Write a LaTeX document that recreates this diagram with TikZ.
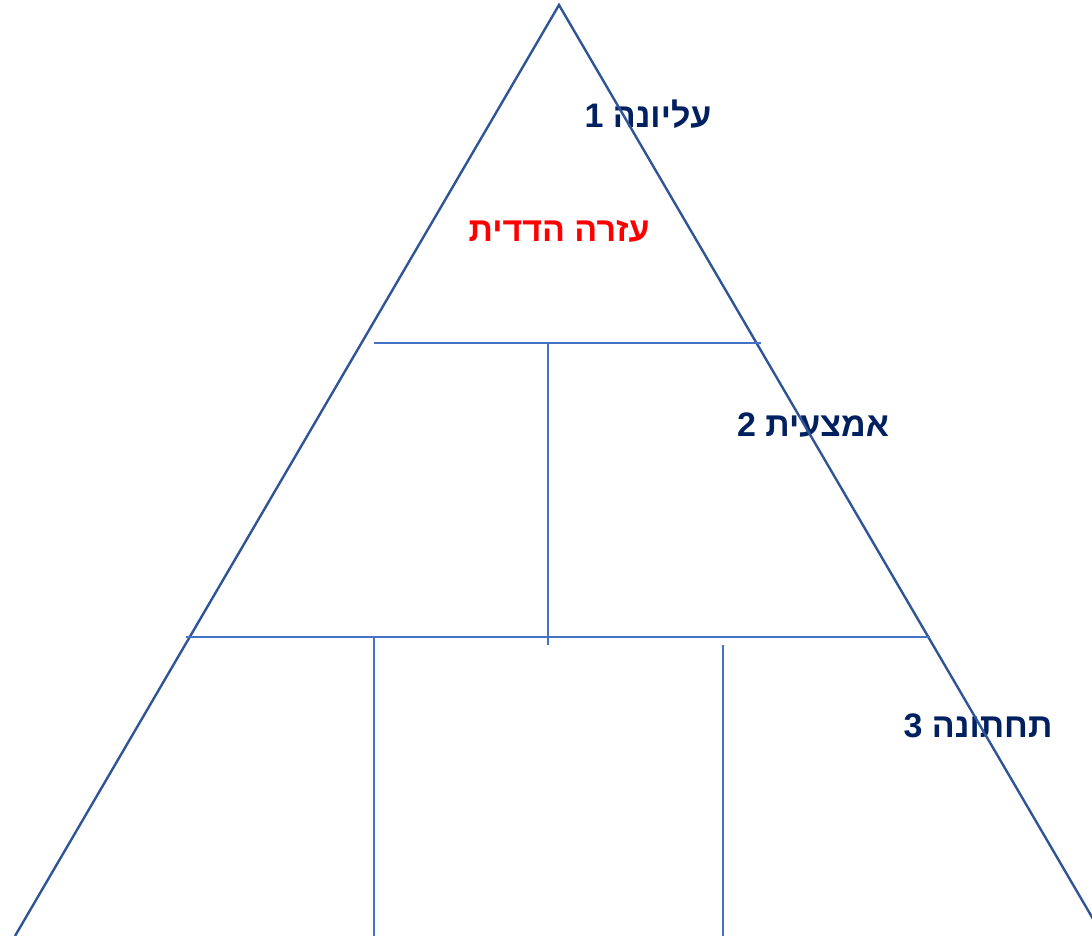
\documentclass[tikz,border=0pt]{standalone}
\usepackage{fontspec}
\setmainfont{Liberation Sans}
\newfontfamily\hebfont[Script=Hebrew]{Liberation Sans}
\TeXXeTstate=1
\usepackage{xcolor}
\usetikzlibrary{positioning}
\definecolor{edgecol}{HTML}{2F5597}
\definecolor{gridcol}{HTML}{4472C4}
\definecolor{labelcol}{HTML}{002060}

\begin{document}
\begin{tikzpicture}[x=1pt, y=-1pt,
  edge/.style={edgecol, line width=2.4pt, line join=miter},
  grid/.style={gridcol, line width=1.4pt},
  level/.style={font=\hebfont\bfseries\fontsize{34}{40}\selectfont, text=labelcol,
                inner sep=0pt, anchor=base}
]
\useasboundingbox (0,0) rectangle (1092,936);
\clip (0,0) rectangle (1092,936);

% labels
\node[level] (lvltop) at (648,128) {\beginR עליונה 1\endR};
\node[level, text=red] (mutual) at (559,241) {\beginR עזרה הדדית\endR};
\node[level] (lvlmid) at (813,436) {\beginR אמצעית 2\endR};
\node[level] (lvlbot) at (978,737) {\beginR תחתונה 3\endR};

% pyramid outline
\coordinate (apex) at (559,5);
\coordinate (baseL) at (15,936);
\coordinate (baseR) at (1103,936);
\draw[edge] (baseL) -- (apex) -- (baseR);

% first row
\coordinate (rowAl) at (374,343);
\coordinate (rowAr) at (761,343);
\coordinate (midAt) at (548,343);
\coordinate (midAb) at (548,645);
\draw[grid] (rowAl) -- (rowAr);
\draw[grid] (midAt) -- (midAb);

% second row
\coordinate (rowBl) at (186,637);
\coordinate (rowBr) at (930,637);
\coordinate (lowLt) at (374,637);
\coordinate (lowLb) at (374,936);
\coordinate (lowRt) at (723,645);
\coordinate (lowRb) at (723,936);
\draw[grid] (rowBl) -- (rowBr);
\draw[grid] (lowLt) -- (lowLb);
\draw[grid] (lowRt) -- (lowRb);
\end{tikzpicture}
\end{document}
